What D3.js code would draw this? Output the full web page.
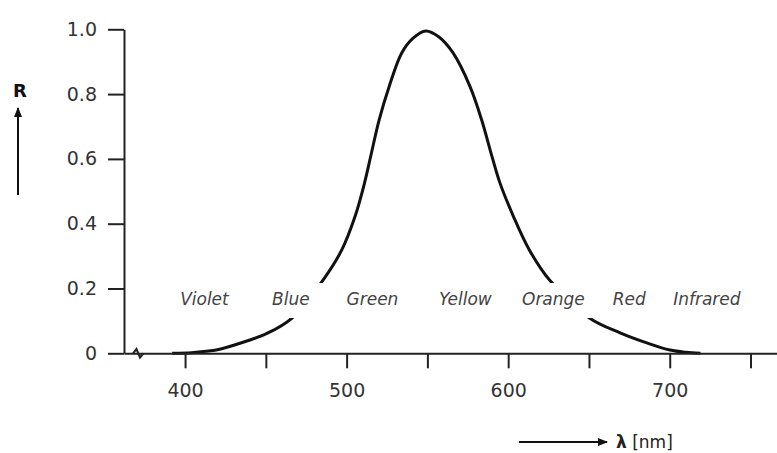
<!DOCTYPE html>
<html><head><meta charset="utf-8">
<script src="https://cdn.jsdelivr.net/npm/d3@7"></script>
<style>body{margin:0;background:#fff}svg{display:block}</style>
</head><body>
<svg id="c" width="777" height="453"></svg>
<script>
// Data
const wavelengths = [392, 404, 413, 420, 434, 451, 466, 485.4, 497, 505.2, 511.1, 515.4, 520.1, 526.3, 534.1, 541, 549,
                     557, 565.9, 576.4, 583.6, 590, 594.9, 603.3, 613.1, 625.6, 650.3, 669.3, 685.8, 700.2, 710, 719];
const response    = [0, 0.002, 0.006, 0.011, 0.031, 0.062, 0.108, 0.226, 0.319, 0.422, 0.526, 0.619, 0.72, 0.823, 0.927, 0.972, 0.995,
                     0.977, 0.927, 0.823, 0.72, 0.607, 0.526, 0.422, 0.319, 0.226, 0.109, 0.063, 0.032, 0.010, 0.003, 0];
const colorNames  = ["Violet", "Blue", "Green", "Yellow", "Orange", "Red", "Infrared"];
const colorCenters = [412, 465.5, 516, 573.5, 628, 675, 723];
const xTicks = [400, 450, 500, 550, 600, 650, 700, 750];
const yTicks = [0, 0.2, 0.4, 0.6, 0.8, 1.0];

const svg = d3.select("#c");
const x = d3.scaleLinear().domain([362.2, 766.4]).range([124, 777]);
const y = d3.scaleLinear().domain([0, 1]).range([353.3, 29.3]);
const F = "'DejaVu Sans', sans-serif";

// curve
svg.append("path")
  .datum(wavelengths.map((w, i) => [w, response[i]]))
  .attr("fill", "none").attr("stroke", "#111").attr("stroke-width", 3)
  .attr("d", d3.line().x(d => x(d[0])).y(d => y(d[1])).curve(d3.curveCatmullRom.alpha(0.5)));

// white band behind the colour names
svg.append("rect").attr("x", 160).attr("y", 283).attr("width", 600).attr("height", 35).attr("fill", "#fff");

svg.append("g").selectAll("text").data(colorNames).join("text")
  .attr("x", (d, i) => x(colorCenters[i])).attr("y", 305)
  .attr("text-anchor", "middle").attr("font-family", F).attr("font-style", "italic")
  .attr("font-size", 17).attr("fill", "#444").text(d => d);

// axes
const gx = svg.append("g").attr("transform", "translate(0,353.3)")
  .call(d3.axisBottom(x).tickValues(xTicks).tickSize(15).tickSizeOuter(0).tickPadding(15)
    .tickFormat(d => d % 100 === 0 ? d : ""));
const gy = svg.append("g").attr("transform", "translate(124,0)")
  .call(d3.axisLeft(y).tickValues(yTicks).tickSize(16).tickSizeOuter(0).tickPadding(11)
    .tickFormat(d => d === 0 ? "0" : d3.format(".1f")(d)));
[gx, gy].forEach(g => {
  g.selectAll("path,line").attr("stroke", "#222").attr("stroke-width", 2);
  g.selectAll("text").attr("font-family", F).attr("font-size", 19).attr("fill", "#333");
});

// axis break mark
svg.append("path").attr("d", "M133,353.3 L136.5,349 L140,357.5 L143.5,353.3")
  .attr("fill", "none").attr("stroke", "#222").attr("stroke-width", 2);

// arrows
const defs = svg.append("defs");
defs.append("marker").attr("id", "ah").attr("viewBox", "0 0 10 10").attr("refX", 9).attr("refY", 5)
  .attr("markerWidth", 5).attr("markerHeight", 5).attr("orient", "auto-start-reverse").attr("markerUnits", "strokeWidth")
  .append("path").attr("d", "M0,1 L10,5 L0,9 Z").attr("fill", "#111");

svg.append("text").attr("x", 20).attr("y", 97).attr("text-anchor", "middle")
  .attr("font-family", F).attr("font-weight", "bold").attr("font-size", 18).attr("fill", "#111").text("R");
svg.append("line").attr("x1", 18).attr("y1", 195).attr("x2", 18).attr("y2", 108)
  .attr("stroke", "#111").attr("stroke-width", 2).attr("marker-end", "url(#ah)");

svg.append("line").attr("x1", 519).attr("y1", 442).attr("x2", 607).attr("y2", 442)
  .attr("stroke", "#111").attr("stroke-width", 2).attr("marker-end", "url(#ah)");
const lt = svg.append("text").attr("x", 616).attr("y", 448).attr("font-family", F).attr("font-size", 17).attr("fill", "#222");
lt.append("tspan").attr("font-weight", "bold").text("λ");
lt.append("tspan").text(" [nm]");
</script>
</body></html>
